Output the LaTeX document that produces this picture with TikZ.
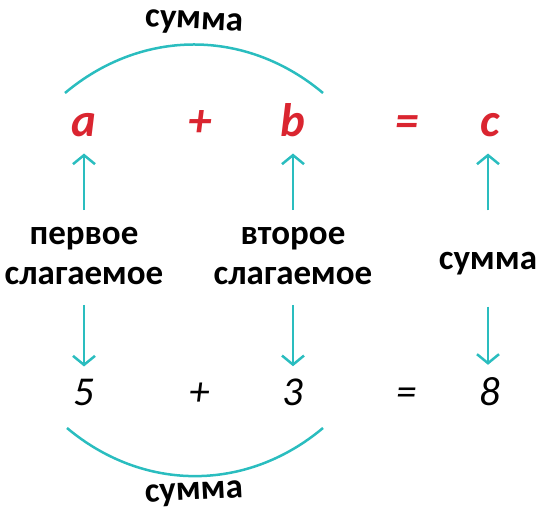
\documentclass[tikz,border=0pt]{standalone}
\usepackage{fontspec}
\setmainfont{Carlito}
\usetikzlibrary{arrows.meta}

\definecolor{morski}{RGB}{42,189,191}
\definecolor{czerwony}{RGB}{218,37,48}

\tikzset{
  lit/.style={text=czerwony,inner sep=0pt,anchor=base,
    font=\fontsize{47}{47}\selectfont\bfseries\itshape},
  num/.style={inner sep=0pt,anchor=base,
    font=\fontsize{41}{41}\selectfont\itshape},
  opis/.style={inner sep=0pt,align=center,
    font=\fontsize{35}{40}\selectfont\bfseries},
  strz/.style={morski,line width=2.5pt,
    -{Straight Barb[length=9pt,width=22pt,line width=2.5pt]}},
  luk/.style={morski,line width=2.5pt}
}

\begin{document}
\begin{tikzpicture}[x=1pt,y=-1pt]
	\useasboundingbox (0,0) rectangle (538,510);

	% gorny rzad
	\node[lit] (a) at (84,137) {a};
	\node[lit] (plus1) at (200,137) {+};
	\node[lit] (b) at (293,137) {b};
	\node[lit] (rowna1) at (407,137) {=};
	\node[lit] (c) at (490,137) {c};

	% opisy
	\node[opis] (pierw) at (84,256) {первое\\слагаемое};
	\node[opis] (drug) at (293,256) {второе\\слагаемое};
	\node[opis] (suma) at (488,264) {сумма};

	% dolny rzad
	\node[num] (n5) at (84,405) {5};
	\node[num] (plus2) at (200,405) {+};
	\node[num] (n3) at (293,405) {3};
	\node[num] (rowna2) at (407,405) {=};
	\node[num] (n8) at (490,405) {8};

	% strzalki
	\foreach \o/\g/\s in {pierw/a/17,drug/b/17,suma/c/42} {
	     \draw[strz,shorten <=\s pt,shorten >=16pt] (\o.north) -- (\o.north |- \g.south);
	}
	\foreach \o/\d/\s in {pierw/n5/20,drug/n3/20,suma/n8/31} {
	     \draw[strz,shorten <=\s pt,shorten >=12pt] (\o.south) -- (\o.south |- \d.north);
	}

	% luki
	\coordinate (gL) at (65,93);
	\coordinate (gP) at (323,93);
	\coordinate (dL) at (67,428);
	\coordinate (dP) at (323,428);
	\draw[luk] (gL) to[bend left=40] (gP);
	\draw[luk] (dL) to[bend right=40] (dP);
	\node[opis,rotate=-3] (sumaG) at (194,23) {сумма};
	\node[opis,rotate=3] (sumaD) at (194,494) {сумма};
\end{tikzpicture}
\end{document}
